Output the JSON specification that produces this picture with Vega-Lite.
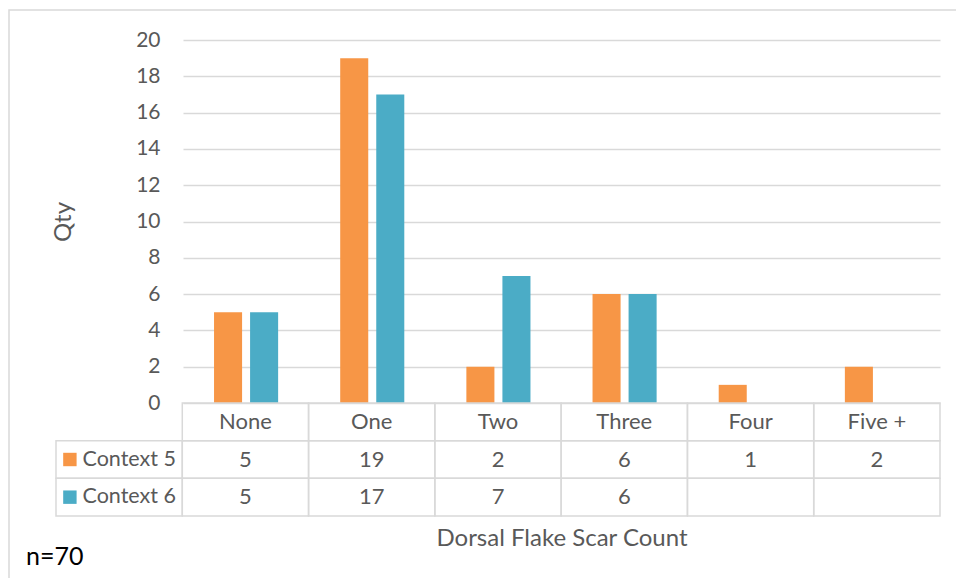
{
  "$schema": "https://vega.github.io/schema/vega-lite/v6.json",
  "width": 951,
  "height": 572,
  "autosize": {"type": "none"},
  "padding": {"left": 9, "top": 10, "right": -4, "bottom": -4},
  "background": "white",
  "view": {"stroke": "#d9d9d9", "strokeWidth": 1.5},
  "config": {"font": "Lato", "view": {"stroke": "#d9d9d9"}},
  "title": {"text": "n=70", "orient": "bottom", "anchor": "start", "frame": "group", "offset": -37, "dx": 17, "fontSize": 25, "fontWeight": "normal", "color": "#000000", "baseline": "top"},
  "datasets": {
    "counts": [
      {"cat": "None", "series": "Context 5", "qty": 5},
      {"cat": "One", "series": "Context 5", "qty": 19},
      {"cat": "Two", "series": "Context 5", "qty": 2},
      {"cat": "Three", "series": "Context 5", "qty": 6},
      {"cat": "Four", "series": "Context 5", "qty": 1},
      {"cat": "Five +", "series": "Context 5", "qty": 2},
      {"cat": "None", "series": "Context 6", "qty": 5},
      {"cat": "One", "series": "Context 6", "qty": 17},
      {"cat": "Two", "series": "Context 6", "qty": 7},
      {"cat": "Three", "series": "Context 6", "qty": 6},
      {"cat": "Four", "series": "Context 6", "qty": null},
      {"cat": "Five +", "series": "Context 6", "qty": null}
    ],
    "cats": [
      {"cat": "None"}, {"cat": "One"}, {"cat": "Two"}, {"cat": "Three"}, {"cat": "Four"}, {"cat": "Five +"}
    ],
    "seriesList": [
      {"series": "Context 5"}, {"series": "Context 6"}
    ]
  },
  "data": {"name": "counts"},
  "resolve": {"scale": {"x": "independent", "y": "independent"}, "axis": {"x": "independent", "y": "independent"}},
  "layer": [
    {
      "mark": {"type": "bar"},
      "transform": [{"filter": "datum.qty != null"}],
      "encoding": {
        "x": {
          "field": "cat", "type": "nominal",
          "scale": {"domain": ["None", "One", "Two", "Three", "Four", "Five +"], "range": [174, 931], "paddingInner": 0, "paddingOuter": 0},
          "axis": {"title": "Dorsal Flake Scar Count", "orient": "bottom", "labels": false, "ticks": false, "domain": false, "grid": false, "offset": -67, "titlePadding": 11, "titleFontSize": 24, "titleFontWeight": "normal", "titleColor": "#595959"}
        },
        "xOffset": {"field": "series", "type": "nominal", "scale": {"domain": ["Context 5", "Context 6"], "paddingInner": 0.222, "paddingOuter": 0.861}},
        "y": {
          "field": "qty", "type": "quantitative",
          "scale": {"domain": [0, 20], "range": [393, 30], "nice": false},
          "axis": {"orient": "left", "values": [0, 2, 4, 6, 8, 10, 12, 14, 16, 18, 20], "offset": -174, "domain": false, "ticks": false, "labelPadding": 23, "labelFontSize": 21, "labelColor": "#595959", "grid": true, "gridColor": "#d9d9d9", "gridWidth": 1.5, "title": "Qty", "titlePadding": 60, "titleFontSize": 24, "titleFontWeight": "normal", "titleColor": "#595959"}
        },
        "color": {"field": "series", "type": "nominal", "scale": {"domain": ["Context 5", "Context 6"], "range": ["#F79646", "#4BACC6"]}, "legend": null}
      }
    },
    {
      "layer": [
        {
          "mark": {"type": "rect", "fill": "transparent", "stroke": "#d9d9d9", "strokeWidth": 1.5},
          "encoding": {
            "x": {"field": "cat", "type": "nominal", "scale": {"domain": ["legend", "None", "One", "Two", "Three", "Four", "Five +"], "range": [47, 931], "paddingInner": 0, "paddingOuter": 0}, "axis": null},
            "y": {"field": "series", "type": "nominal", "scale": {"domain": ["header", "Context 5", "Context 6"], "range": [393, 506], "paddingInner": 0, "paddingOuter": 0}, "axis": null}
          }
        },
        {
          "mark": {"type": "text", "fontSize": 22, "color": "#595959"},
          "transform": [{"filter": "datum.qty != null"}],
          "encoding": {
            "x": {"field": "cat", "type": "nominal"},
            "y": {"field": "series", "type": "nominal"},
            "text": {"field": "qty", "type": "quantitative"}
          }
        },
        {
          "data": {"name": "cats"},
          "mark": {"type": "rect", "fill": "transparent", "stroke": "#d9d9d9", "strokeWidth": 1.5},
          "encoding": {
            "x": {"field": "cat", "type": "nominal"},
            "y": {"datum": "header", "type": "nominal"}
          }
        },
        {
          "data": {"name": "cats"},
          "mark": {"type": "text", "fontSize": 22, "color": "#595959"},
          "encoding": {
            "x": {"field": "cat", "type": "nominal"},
            "y": {"datum": "header", "type": "nominal"},
            "text": {"field": "cat", "type": "nominal"}
          }
        },
        {
          "data": {"name": "seriesList"},
          "mark": {"type": "rect", "fill": "transparent", "stroke": "#d9d9d9", "strokeWidth": 1.5},
          "encoding": {
            "x": {"datum": "legend", "type": "nominal"},
            "y": {"field": "series", "type": "nominal"}
          }
        },
        {
          "data": {"name": "seriesList"},
          "mark": {"type": "point", "shape": "square", "filled": true, "size": 180, "opacity": 1},
          "encoding": {
            "x": {"datum": "legend", "type": "nominal", "bandPosition": 0.11},
            "y": {"field": "series", "type": "nominal"},
            "color": {"field": "series", "type": "nominal", "legend": null}
          }
        },
        {
          "data": {"name": "seriesList"},
          "mark": {"type": "text", "fontSize": 21.5, "color": "#595959", "align": "left"},
          "encoding": {
            "x": {"datum": "legend", "type": "nominal", "bandPosition": 0.21},
            "y": {"field": "series", "type": "nominal"},
            "text": {"field": "series", "type": "nominal"}
          }
        }
      ]
    }
  ]
}
